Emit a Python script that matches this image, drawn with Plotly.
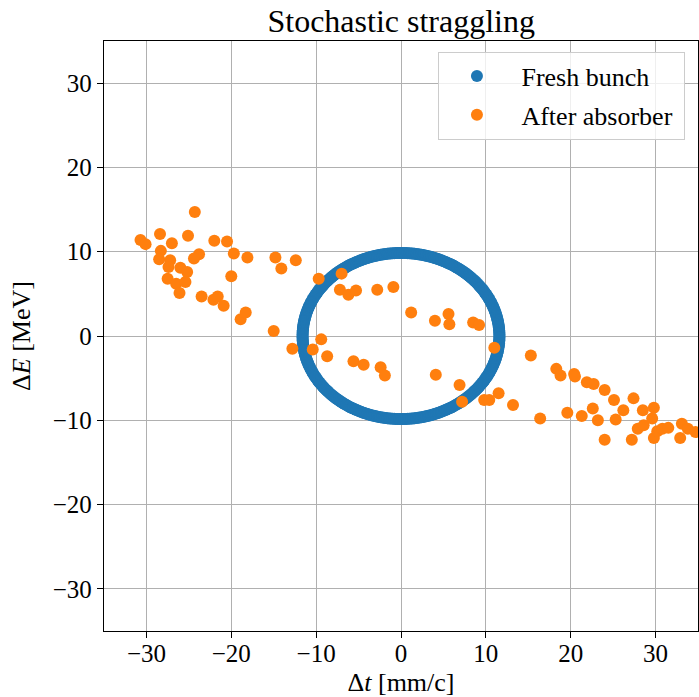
import numpy as np
import plotly.graph_objects as go

# Fresh bunch: particles on an ellipse in (dt, dE)
fresh_dt_halfwidth = 11.6   # mm/c
fresh_dE_halfwidth = 9.85   # MeV
fresh_n = 360

# After absorber: scattered particles
after_dt = [
    -24.3, -30.7, -30.1, -28.4, -27.0, -25.1, -22.0, -20.5, -28.3, -28.5,
    -27.2, -23.8, -24.4, -19.7, -18.1, -14.8, -12.4, -14.1, -27.4, -26.0,
    -25.2, -27.5, -26.5, -25.4, -26.1, -20.0, -23.5, -22.1, -21.6, -20.9,
    -18.9, -18.3, -15.0,
    -9.7, -7.0, -7.2, -6.2, -5.3, -2.8, -0.9, 1.2, 4.0, 5.6,
    5.7, 8.5, 9.2, 11.0, -9.4, -12.8, -10.4, -8.7, -5.6, -4.4,
    -2.4, -1.9, 4.1, 6.9, 7.2, 9.8, 10.4, 11.5, 13.2,
    15.3, 16.4, 18.3, 18.8, 20.4, 20.5, 19.6, 21.3, 21.9, 22.7,
    24.0, 25.1, 22.6, 23.2, 24.0, 25.3, 26.2, 27.4, 28.5, 27.2,
    27.9, 28.6, 29.8, 29.6, 29.8, 30.2, 30.8, 31.5, 32.9, 33.1,
    33.8, 34.7,
]
after_dE = [
    14.7, 11.4, 10.9, 12.1, 11.0, 11.9, 11.3, 11.2, 10.1, 9.1,
    9.0, 9.7, 9.2, 9.8, 9.3, 9.3, 9.0, 8.0, 8.2, 8.1,
    7.6, 6.8, 6.2, 6.4, 5.1, 7.1, 4.7, 4.3, 4.7, 3.6,
    2.0, 2.8, 0.6,
    6.8, 7.4, 5.5, 4.9, 5.4, 5.5, 5.8, 2.8, 1.8, 2.6,
    1.4, 1.6, 1.3, -1.4, -0.4, -1.5, -1.6, -2.4, -3.0, -3.4,
    -3.7, -4.7, -4.6, -5.8, -7.8, -7.6, -7.6, -6.8, -8.2,
    -2.3, -9.8, -3.9, -4.7, -4.5, -4.8, -9.1, -9.5, -5.5, -5.7,
    -6.4, -7.6, -8.6, -10.0, -12.3, -9.9, -8.8, -7.4, -8.8, -12.3,
    -11.0, -10.6, -8.5, -9.8, -12.1, -11.3, -11.0, -10.9, -12.1, -10.4,
    -11.0, -11.4,
]

axis_ticks = [-30, -20, -10, 0, 10, 20, 30]
axis_range = [-35, 35]

phase = np.linspace(0, 2 * np.pi, fresh_n, endpoint=False)
fresh_dt = fresh_dt_halfwidth * np.cos(phase)
fresh_dE = fresh_dE_halfwidth * np.sin(phase)

FONT = "Liberation Serif"
BLUE = "#1f77b4"
ORANGE = "#ff7f0e"
PAD = "\u00a0"  # keeps the legend labels clear of the markers and the frame

fig = go.Figure()
fig.add_trace(go.Scatter(
    x=fresh_dt, y=fresh_dE, mode="markers", name=PAD + "Fresh bunch" + PAD,
    legendgroup="fresh",
    marker=dict(color=BLUE, size=12, line=dict(width=0)),
))
fig.add_trace(go.Scatter(
    x=after_dt, y=after_dE, mode="markers", name=PAD + "After absorber" + PAD,
    legendgroup="after",
    marker=dict(color=ORANGE, size=12, line=dict(width=0)),
))

axis_common = dict(
    range=axis_range, tickvals=axis_ticks, showgrid=True,
    gridcolor="#b0b0b0", gridwidth=1, zeroline=False,
    showline=True, mirror=True, linecolor="black", linewidth=1.3,
    ticks="outside", ticklen=6, tickwidth=1, tickcolor="black",
    tickfont=dict(family=FONT, size=25, color="black"),
)

fig.update_layout(
    width=699, height=697,
    margin=dict(l=104, r=1, t=41, b=66),
    paper_bgcolor="white", plot_bgcolor="white",
    font=dict(family=FONT, size=25, color="black"),
    title=dict(text="Stochastic straggling", x=0.574, xanchor="center",
               y=0.97, yanchor="middle",
               font=dict(family=FONT, size=32, color="black")),
    xaxis=dict(**axis_common, ticklabelstandoff=-6,
               title=dict(text="Δ<i>t</i> [mm/c]", standoff=10,
                          font=dict(family=FONT, size=26))),
    yaxis=dict(**axis_common,
               title=dict(text="Δ<i>E</i> [MeV]", standoff=14,
                          font=dict(family=FONT, size=26))),
    legend=dict(
        x=0.978, y=0.982, xanchor="right", yanchor="top",
        bgcolor="rgba(255,255,255,0.8)", bordercolor="#cccccc", borderwidth=1,
        font=dict(family=FONT, size=26, color="black"),
        itemwidth=66, tracegroupgap=2, traceorder="grouped",
    ),
)

fig.write_html("out.html")
